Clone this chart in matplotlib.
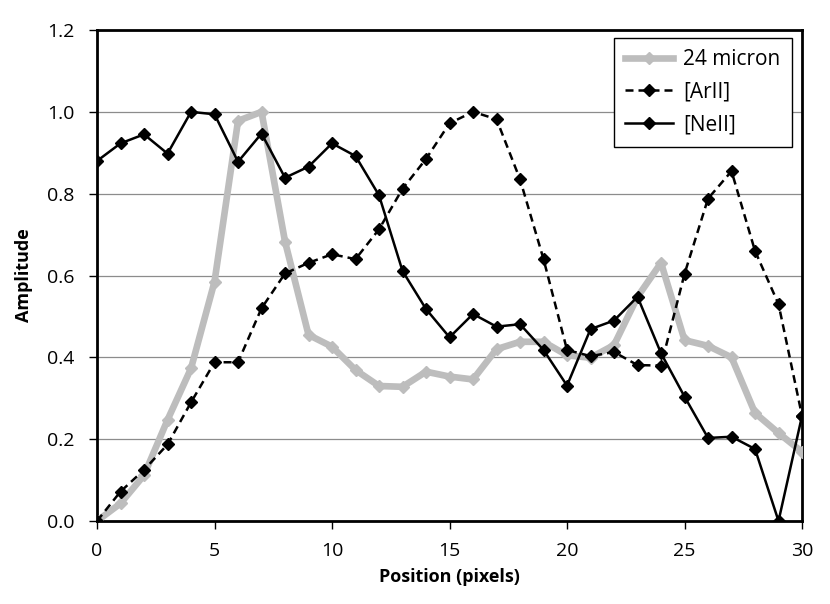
import matplotlib
matplotlib.use("Agg")
import matplotlib.pyplot as plt
from matplotlib.ticker import FormatStrFormatter

plt.rcParams['font.family'] = ['Open Sans', 'DejaVu Sans']

position = list(range(31))
micron24 = [0.0, 0.043, 0.112, 0.247, 0.373, 0.585, 0.978, 1.0, 0.683, 0.455,
            0.426, 0.369, 0.33, 0.328, 0.365, 0.353, 0.346, 0.42, 0.438, 0.438,
            0.405, 0.399, 0.43, 0.548, 0.631, 0.442, 0.428, 0.40, 0.264, 0.215, 0.169]
arII = [0.0, 0.072, 0.125, 0.187, 0.29, 0.388, 0.388, 0.52, 0.605, 0.631,
        0.652, 0.64, 0.713, 0.812, 0.885, 0.972, 1.0, 0.982, 0.835, 0.64,
        0.418, 0.403, 0.413, 0.381, 0.38, 0.604, 0.788, 0.855, 0.66, 0.53, 0.257]
neII = [0.88, 0.923, 0.945, 0.898, 1.0, 0.994, 0.878, 0.947, 0.839, 0.866,
        0.923, 0.892, 0.796, 0.611, 0.518, 0.449, 0.506, 0.475, 0.481, 0.418,
        0.331, 0.469, 0.49, 0.548, 0.41, 0.304, 0.203, 0.206, 0.176, 0.0, 0.257]

fig = plt.figure(figsize=(8.30, 6.04), dpi=100)
ax = fig.add_axes([0.1169, 0.1374, 0.8494, 0.8129])

ax.plot(position, micron24, color='#bdbdbd', lw=4.8, marker='D', ms=6.5,
        markeredgecolor='#bdbdbd', label='24 micron', zorder=3)
ax.plot(position, arII, color='black', lw=1.8, ls=(0, (3.2, 2.0)), marker='D', ms=6,
        label='[ArII]', zorder=4)
ax.plot(position, neII, color='black', lw=1.8, marker='D', ms=6,
        label='[NeII]', zorder=5)

ax.set_xlim(0, 30)
ax.set_ylim(0, 1.2)
ax.set_xticks(range(0, 31, 5))
ax.set_yticks([0.0, 0.2, 0.4, 0.6, 0.8, 1.0, 1.2])
ax.yaxis.set_major_formatter(FormatStrFormatter('%.1f'))
ax.grid(axis='y', color='#8c8c8c', lw=0.9, zorder=0)
ax.set_axisbelow(True)
for s in ax.spines.values():
    s.set_linewidth(2.0)
    s.set_color('black')
ax.tick_params(direction='out', length=6, width=1, labelsize=14)
ax.tick_params(axis='y', pad=10)
ax.tick_params(axis='x', pad=9)
ax.set_xlabel('Position (pixels)', fontsize=13, fontweight='bold', labelpad=6)
ax.set_ylabel('Amplitude', fontsize=13, fontweight='bold', labelpad=10)

leg = ax.legend(loc='upper right', bbox_to_anchor=(0.986, 0.984), borderaxespad=0,
                fontsize=15, fancybox=False, framealpha=1, edgecolor='black',
                handlelength=2.3, handletextpad=0.5, borderpad=0.55, labelspacing=0.55)
leg.get_frame().set_linewidth(1.0)

fig.savefig('out.png', dpi=100)
